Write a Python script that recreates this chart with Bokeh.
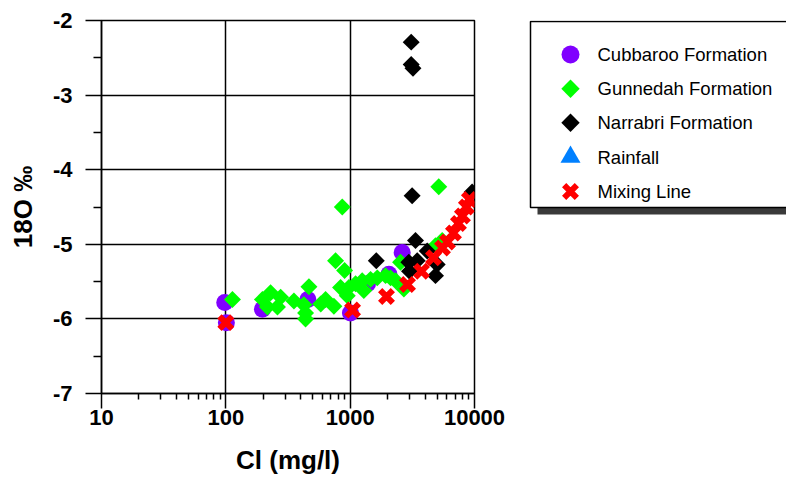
from bokeh.plotting import figure
from bokeh.layouts import row
from bokeh.models import Range1d, FixedTicker, NumeralTickFormatter
from bokeh.core.properties import value
from bokeh.embed import file_html
from bokeh.resources import INLINE

# --- data: chloride (mg/l) vs delta 18O (per mil) ---
cubbaroo_cl = [98, 101, 197, 457, 1005, 1380, 2050, 2620]
cubbaroo_o18 = [-5.78, -6.05, -5.87, -5.74, -5.92, -5.53, -5.40, -5.11]

gunnedah_cl = [113, 197, 216, 229, 260, 276, 353, 425, 438, 438, 466, 580, 634,
               740, 763, 837, 864, 902, 948, 977, 1105, 1250, 1288, 1459, 1652,
               1925, 2113, 2320, 2541, 2703, 4856, 5160, 5495]
gunnedah_o18 = [-5.74, -5.74, -5.84, -5.65, -5.84, -5.71, -5.76, -5.81, -5.92, -6.00,
                -5.57, -5.80, -5.74, -5.83, -5.22, -5.58, -4.50, -5.35, -5.69, -5.58,
                -5.53, -5.49, -5.62, -5.47, -5.45, -5.42, -5.45, -5.49, -5.24, -5.60,
                -5.02, -4.23, -4.95]

narrabri_cl = [3097, 3097, 3200, 3150, 9575, 1622, 3354, 4165, 3462, 2964, 3000, 5012, 4856]
narrabri_o18 = [-2.29, -2.59, -2.64, -4.35, -4.30, -5.22, -4.95, -5.09, -5.22, -5.24,
                -5.36, -5.27, -5.42]

rainfall_cl = []
rainfall_o18 = []

mixing_cl = [100, 1045, 1960, 2893, 3748, 4680, 5525, 6064, 6776, 7430, 8000, 8610, 9100]
mixing_o18 = [-6.05, -5.88, -5.70, -5.54, -5.36, -5.18, -5.05, -4.97, -4.85, -4.72,
              -4.62, -4.50, -4.40]

series_names = ["Cubbaroo Formation", "Gunnedah Formation", "Narrabri Formation",
                "Rainfall", "Mixing Line"]

x_ticks = [10, 100, 1000, 10000]
y_ticks = [-7, -6, -5, -4, -3, -2]

FONT = "Liberation Sans"

# marker style per series: (marker, size, angle, fill, line width)
styles = [
    ("circle", 17, 0.0, "#8000FF", 0),
    ("square", 12, 0.7853981634, "#00FF00", 0),
    ("square", 12, 0.7853981634, "#000000", 0),
    ("triangle", 19, 0.0, "#0080FF", 0),
    ("x", 18, 0.0, "#FF0000", 6),
]
series_data = [
    (cubbaroo_cl, cubbaroo_o18),
    (gunnedah_cl, gunnedah_o18),
    (narrabri_cl, narrabri_o18),
    (rainfall_cl, rainfall_o18),
    (mixing_cl, mixing_o18),
]

p = figure(width=520, height=482, x_axis_type="log",
           x_range=Range1d(10, 10000), y_range=Range1d(-7, -2),
           output_backend="svg", toolbar_location=None, title=None,
           min_border_left=101, min_border_right=46,
           min_border_top=20, min_border_bottom=89)
p.background_fill_color = "white"
p.border_fill_color = "white"
p.outline_line_color = "black"
p.outline_line_width = 1.5

for (xs, ys), (marker, size, angle, color, lw) in zip(series_data, styles):
    if marker == "x":
        p.scatter(xs, ys, marker=marker, size=size, line_color=color,
                  line_width=lw)
    else:
        p.scatter(xs, ys, marker=marker, size=size, angle=angle,
                  fill_color=color, line_color=None)

# axes
p.xaxis.ticker = FixedTicker(
    ticks=x_ticks,
    minor_ticks=[m * d for d in (10, 100, 1000) for m in range(2, 10)])
p.yaxis.ticker = FixedTicker(
    ticks=y_ticks, minor_ticks=[t + 0.5 for t in y_ticks[:-1]])
p.xaxis.formatter = NumeralTickFormatter(format="0")
p.yaxis.formatter = NumeralTickFormatter(format="0")

for ax in (p.xaxis, p.yaxis):
    ax.axis_line_color = "black"
    ax.axis_line_width = 1.5
    ax.major_tick_line_color = "black"
    ax.major_tick_line_width = 1.5
    ax.minor_tick_line_color = "black"
    ax.minor_tick_line_width = 1.5
    ax.major_tick_in = 0
    ax.minor_tick_in = 0
    ax.major_label_text_font = FONT
    ax.major_label_text_font_style = "bold"
    ax.major_label_text_font_size = "22px"
    ax.major_label_text_color = "black"
    ax.axis_label_text_font = FONT
    ax.axis_label_text_font_style = "bold"
    ax.axis_label_text_font_size = "26px"
    ax.axis_label_text_color = "black"

p.xaxis.major_tick_out = 15
p.xaxis.minor_tick_out = 6
p.xaxis.major_label_standoff = 1
p.xaxis.axis_label = "Cl (mg/l)"
p.xaxis.axis_label_standoff = 17

p.yaxis.major_tick_out = 16
p.yaxis.minor_tick_out = 8
p.yaxis.major_label_standoff = 13
p.yaxis.axis_label = "18O ‰"
p.yaxis.axis_label_standoff = 12

for g in (p.xgrid, p.ygrid):
    g.grid_line_color = "black"
    g.grid_line_width = 1.5

# legend panel with drop shadow, drawn in page pixel units
# (its frame lines up with the plot frame, which starts 20px down)
lg = figure(frame_width=266, frame_height=462,
            x_range=Range1d(0, 266), y_range=Range1d(482, 20),
            output_backend="svg", toolbar_location=None, title=None,
            x_axis_location=None, y_axis_location=None,
            min_border_left=0, min_border_right=0,
            min_border_top=0, min_border_bottom=0)
lg.grid.visible = False
lg.outline_line_color = None
lg.background_fill_color = "white"
lg.border_fill_color = "white"

lg.quad(left=17, right=300, top=27, bottom=214, fill_color="#3a3a3a", line_color=None)
lg.quad(left=10, right=300, top=21, bottom=207, fill_color="white",
        line_color="black", line_width=1.5)

row_y = [54, 88.3, 122.3, 156.6, 191]
for name, y, (marker, size, angle, color, lw) in zip(series_names, row_y, styles):
    if marker == "x":
        lg.scatter([50], [y], marker=marker, size=size, line_color=color,
                   line_width=lw)
    else:
        lg.scatter([50], [y], marker=marker, size=size + 1, angle=angle,
                   fill_color=color, line_color=None)
    lg.text([77], [y], text=[name], text_font=value(FONT), text_font_size="18.5px",
            text_baseline="middle", text_align="left", text_color="black")

layout = row(p, lg, spacing=0)
open("out.html", "w").write(file_html(layout, INLINE))
